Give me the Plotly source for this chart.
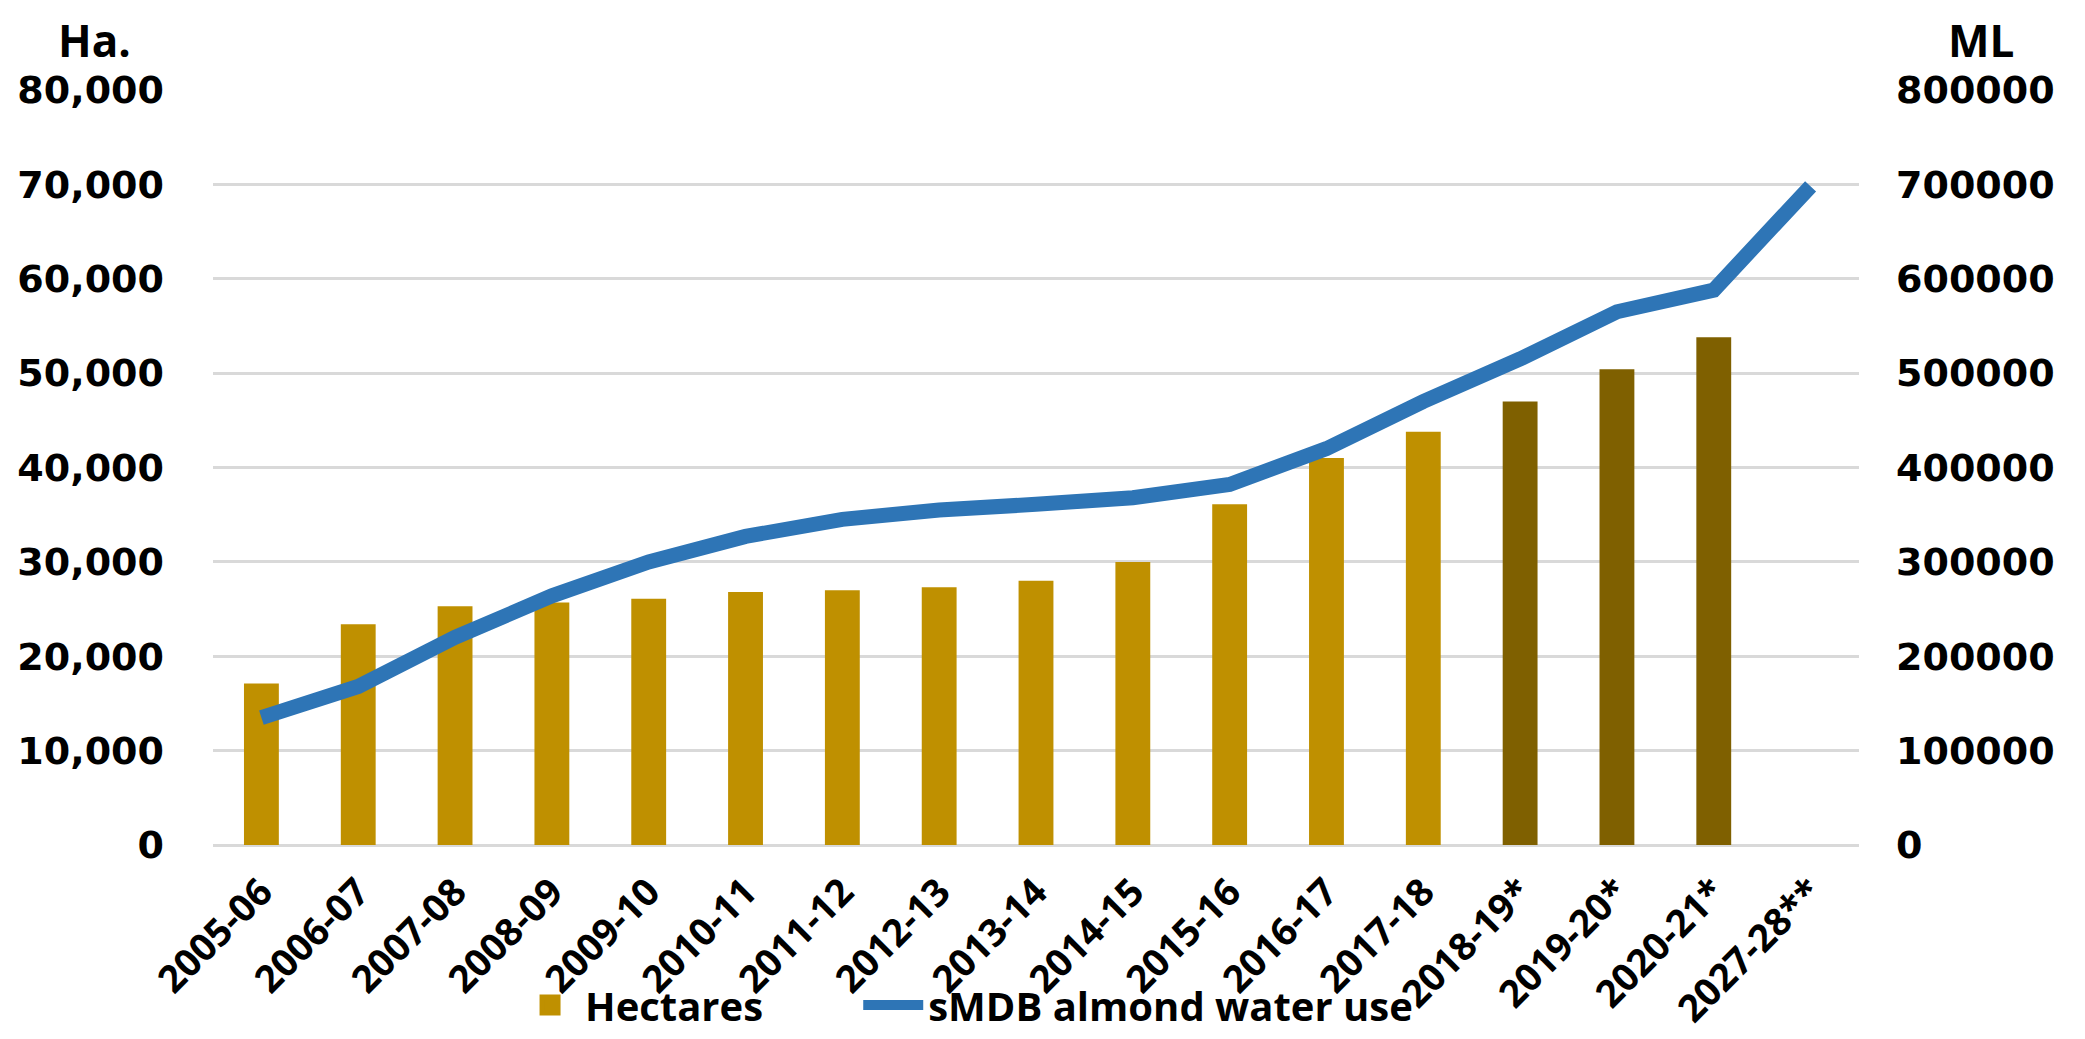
import plotly.graph_objects as go

categories = ["2005-06", "2006-07", "2007-08", "2008-09", "2009-10", "2010-11",
              "2011-12", "2012-13", "2013-14", "2014-15", "2015-16", "2016-17",
              "2017-18", "2018-19*", "2019-20*", "2020-21*", "2027-28**"]
hectares = [17100, 23400, 25300, 25700, 26100, 26800, 27000, 27300, 28000,
            30000, 36100, 41000, 43800, 47000, 50400, 53800, None]
water_use = [135000, 168000, 220000, 264000, 300000, 327000, 345000, 355000,
             361000, 368000, 382000, 420000, 470000, 515000, 565000, 588000, 698000]

GOLD = "#BF9000"
DARK = "#7F6000"
BLUE = "#2E75B6"
bar_colors = [DARK if c.endswith("*") else GOLD for c in categories]

fig = go.Figure()
fig.add_trace(go.Bar(
    x=categories, y=hectares, name="Hectares",
    marker=dict(color=bar_colors, line=dict(width=0)),
    showlegend=False, legendgroup="ha", yaxis="y",
))
# legend entry for the bars (larger swatch)
fig.add_trace(go.Scatter(
    x=[None], y=[None], mode="markers", name="Hectares", legendgroup="ha",
    marker=dict(symbol="square", size=34, color=GOLD, line=dict(color=GOLD, width=8)),
    yaxis="y", legend="legend",
))
fig.add_trace(go.Scatter(
    x=categories, y=water_use, name="sMDB almond water use", mode="lines",
    line=dict(color=BLUE, width=15), yaxis="y2", legend="legend2",
))

tick_font = dict(family="DejaVu Sans", size=38, color="black", weight="bold")
legend_font = dict(family="Open Sans", size=40, color="black", weight="bold")
fig.update_layout(
    width=2085, height=1039,
    margin=dict(l=205, r=234, t=82, b=202, autoexpand=False),
    paper_bgcolor="white", plot_bgcolor="white",
    bargap=0.64,
    font=dict(family="Open Sans", color="black"),
    xaxis=dict(
        type="category", tickangle=-45, showgrid=False, showline=False,
        tickfont=dict(family="Open Sans", size=38, color="black", weight="bold"),
        ticks="", ticklabelstandoff=16, automargin=False,
    ),
    yaxis=dict(
        range=[0, 80000], dtick=10000, tickformat=",", showgrid=True,
        gridcolor="#D9D9D9", gridwidth=2.5, zeroline=True, zerolinecolor="#D9D9D9",
        zerolinewidth=2.5, showline=False, ticks="", tickfont=tick_font,
        ticklabelstandoff=48, automargin=False,
    ),
    yaxis2=dict(
        range=[0, 800000], dtick=100000, tickformat="d", overlaying="y",
        side="right", showgrid=False, zeroline=False, showline=False, ticks="",
        tickfont=tick_font, ticklabelstandoff=36, automargin=False,
    ),
    legend=dict(
        orientation="h", x=0.1835, xanchor="left", y=-0.212, yanchor="middle",
        font=legend_font, itemwidth=60, bgcolor="rgba(0,0,0,0)",
    ),
    legend2=dict(
        orientation="h", x=0.392, xanchor="left", y=-0.212, yanchor="middle",
        font=legend_font, itemwidth=60, bgcolor="rgba(0,0,0,0)",
    ),
    annotations=[
        dict(text="Ha.", xref="paper", yref="paper", x=-0.072, y=1.066,
             xanchor="center", yanchor="middle", showarrow=False,
             font=dict(family="Open Sans", size=44, color="black", weight="bold")),
        dict(text="ML", xref="paper", yref="paper", x=1.074, y=1.066,
             xanchor="center", yanchor="middle", showarrow=False,
             font=dict(family="Open Sans", size=44, color="black", weight="bold")),
    ],
)

fig.write_html("out.html")
